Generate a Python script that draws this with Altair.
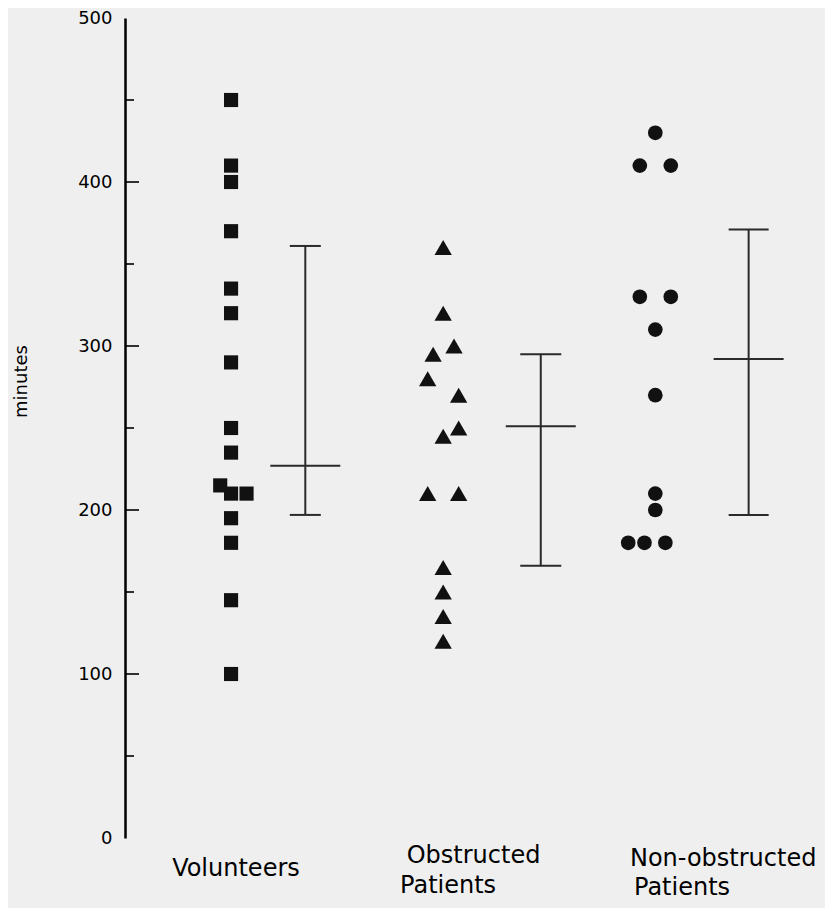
import altair as alt
import pandas as pd

# ---------------- data ----------------
groups = ["Volunteers", "Obstructed Patients", "Non-obstructed Patients"]

volunteers = [450, 410, 400, 370, 335, 320, 290, 250, 235, 215, 210, 210, 195, 180, 145, 100]
volunteers_jitter = [0, 0, 0, 0, 0, 0, 0, 0, 0, -0.7, 0, 1.0, 0, 0, 0, 0]

obstructed = [360, 320, 300, 295, 280, 270, 250, 245, 210, 210, 165, 150, 135, 120]
obstructed_jitter = [0, 0, 0.7, -0.65, -1, 1, 1, 0, -1, 1, 0, 0, 0, 0]

non_obstructed = [430, 410, 410, 330, 330, 310, 270, 210, 200, 180, 180, 180]
non_obstructed_jitter = [0, -1, 1, -1, 1, 0, 0, 0, 0, -1.75, -0.7, 0.65]

bar_mean = [227, 251, 292]
bar_upper = [361, 295, 371]
bar_lower = [197, 166, 197]

y_labels = [0, 100, 200, 300, 400, 500]
major_ticks = [100, 200, 300, 400]
minor_ticks = [50, 150, 250, 350, 450]

label_line1 = ["Volunteers", "Obstructed", "Non-obstructed"]
label_line2 = ["", "Patients", "Patients"]

# ---------------- layout / style ----------------
WIDTH, HEIGHT = 700, 820
X_DOMAIN = [0, 3.3]
GROUP_CENTER = [0.5, 1.5, 2.5]
BAR_SHIFT = [0.35, 0.46, 0.44]
STEP = 0.073
SHAPES = ["square", "triangle-up", "circle"]
SIZES = [200, 300, 215]
CAP_LEN = [31, 41, 40]
LINE1_X = [0.523, 1.643, 2.82]
LINE2_X = [0.523, 1.523, 2.626]
LINE1_Y = [858, 845, 848]
LINE2_Y = [875, 875, 877]
FONT = "DejaVu Sans"
INK = "#111111"
BAR_INK = "#2a2a2a"

xscale = alt.Scale(domain=X_DOMAIN, nice=False, zero=False)
yscale = alt.Scale(domain=[0, 500], nice=False, zero=True)

Y_AXIS = alt.Axis(
    values=y_labels,
    ticks=False,
    tickSize=0,
    grid=False,
    domain=True,
    domainColor="black",
    domainWidth=2.5,
    labelFont=FONT,
    labelFontSize=18,
    labelColor="black",
    labelPadding=13,
    labelOverlap=False,
    title="minutes",
    titleFont=FONT,
    titleFontSize=18,
    titleFontWeight="normal",
    titleColor="black",
    titleAngle=-90,
    titleBaseline="middle",
    titleAlign="center",
    titleX=-104,
    titleY=363,
)


def Y(field):
    return alt.Y(field, scale=yscale, axis=Y_AXIS, title="minutes")


def X(field):
    return alt.X(field, scale=xscale, axis=None)


series = [
    (volunteers, volunteers_jitter),
    (obstructed, obstructed_jitter),
    (non_obstructed, non_obstructed_jitter),
]

layers = []

# inward tick marks
for vals, length in [(major_ticks, 14), (minor_ticks, 9)]:
    layers.append(
        alt.Chart(pd.DataFrame({"v": vals})).mark_rule(color="black", strokeWidth=1.6).encode(
            y=Y("v:Q"),
            x=alt.value(0),
            x2=alt.value(length),
        )
    )

# data points
for i, (vals, jit) in enumerate(series):
    df = pd.DataFrame({
        "group": groups[i],
        "value": vals,
        "x": [GROUP_CENTER[i] + j * STEP for j in jit],
    })
    layers.append(
        alt.Chart(df).mark_point(
            filled=True, shape=SHAPES[i], size=SIZES[i], color=INK, opacity=1, strokeWidth=0
        ).encode(
            x=X("x:Q"),
            y=Y("value:Q"),
        )
    )

# error bars
for i in range(3):
    edf = pd.DataFrame({
        "group": [groups[i]],
        "bx": [GROUP_CENTER[i] + BAR_SHIFT[i]],
        "mean": [bar_mean[i]],
        "lower": [bar_lower[i]],
        "upper": [bar_upper[i]],
    })
    base = alt.Chart(edf)
    layers.append(
        base.mark_rule(color=BAR_INK, strokeWidth=2).encode(
            x=X("bx:Q"),
            y=Y("lower:Q"),
            y2="upper:Q",
        )
    )
    layers.append(
        base.mark_tick(orient="horizontal", color=BAR_INK, thickness=2, size=70, opacity=1).encode(
            x=X("bx:Q"),
            y=Y("mean:Q"),
        )
    )
    for col in ["lower", "upper"]:
        layers.append(
            base.mark_tick(orient="horizontal", color=BAR_INK, thickness=2, size=CAP_LEN[i], opacity=1).encode(
                x=X("bx:Q"),
                y=Y(f"{col}:Q"),
            )
        )

# category labels
for i in range(3):
    for txt, xu, yp in [(label_line1[i], LINE1_X[i], LINE1_Y[i]), (label_line2[i], LINE2_X[i], LINE2_Y[i])]:
        if not txt:
            continue
        layers.append(
            alt.Chart(pd.DataFrame({"t": [txt]})).mark_text(
                font=FONT, fontSize=24, color="black", align="center", baseline="alphabetic"
            ).encode(
                x=alt.datum(xu, scale=xscale),
                y=alt.value(yp),
                text="t:N",
            )
        )

chart = alt.layer(*layers).properties(
    width=WIDTH,
    height=HEIGHT,
    autosize=alt.AutoSizeParams(type="none"),
    padding={"left": 117, "top": 10, "right": 0, "bottom": 70},
    background="#efefef",
).configure_view(stroke=None)

chart.save("out.html", embed_options={"renderer": "svg", "actions": False})
